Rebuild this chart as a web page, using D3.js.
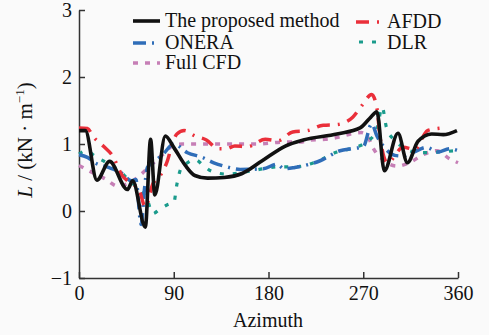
<!DOCTYPE html>
<html>
<head>
<meta charset="utf-8">
<script src="https://cdn.jsdelivr.net/npm/d3@7"></script>
<style>
  body { margin: 0; background: #fafafa; }
  svg text, svg g { font-family: "Times New Roman", Times, "Liberation Serif", "DejaVu Serif", serif !important; }
</style>
</head>
<body>
<script>
// Carga aerodinámica L frente al azimut, cinco métodos
var w = 489;
var h = 335;

var yTicks = [-1, 0, 1, 2, 3];
var xTicks = [0, 90, 180, 270, 360];

var proposedAz = [0, 6, 17, 29, 46, 51, 63, 68, 72, 82, 90, 101, 110, 122, 138, 155, 174, 196, 213, 245, 267, 276, 283, 290, 303, 312, 322, 335, 346, 359];
var proposedL  = [1.2, 1.2, 0.46, 0.74, 0.32, 0.45, -0.24, 1.07, 0.24, 1.12, 0.95, 0.68, 0.53, 0.49, 0.5, 0.56, 0.75, 0.97, 1.06, 1.15, 1.24, 1.38, 1.48, 0.6, 1.16, 0.72, 1.04, 1.15, 1.14, 1.2];

var afddAz = [0, 8, 14, 23, 32, 41, 50, 57, 63, 70, 78, 84, 88, 93, 100, 110, 121, 132, 140, 148, 160, 177, 189, 203, 217, 232, 245, 260, 269, 278, 283, 286, 293, 308, 319, 331, 345];
var afddL  = [1.24, 1.23, 1.1, 0.97, 0.82, 0.53, 0.41, 0.32, 0.06, 0.4, 0.55, 0.75, 0.97, 1.15, 1.2, 1.12, 1.06, 0.93, 0.93, 0.97, 0.96, 1.07, 1.05, 1.18, 1.2, 1.28, 1.29, 1.4, 1.58, 1.74, 1.53, 1.1, 0.72, 0.95, 0.92, 1.2, 1.24];

var oneraAz = [0, 8, 15, 28, 40, 50, 54, 59, 62, 65, 70, 80, 90, 103, 117, 128, 140, 153, 175, 188, 195, 205, 229, 248, 259, 270, 278, 283, 290, 300, 307, 318, 330, 341, 352, 360];
var oneraL  = [0.84, 0.8, 0.72, 0.65, 0.57, 0.45, 0.47, -0.2, 0.3, 0.65, 0.72, 0.85, 1.0, 0.87, 0.8, 0.72, 0.66, 0.62, 0.63, 0.7, 0.63, 0.65, 0.75, 0.9, 0.93, 0.96, 1.3, 1.12, 0.95, 0.83, 0.82, 0.88, 0.95, 0.88, 0.93, 0.9];

var dlrAz = [0, 7, 15, 25, 40, 48, 57, 65, 70, 77, 85, 90, 93, 97, 103, 110, 118, 125, 141, 157, 175, 190, 205, 225, 245, 258, 275, 283, 288, 292, 300, 308, 324, 340, 358];
var dlrL  = [0.85, 0.9, 0.82, 0.73, 0.58, 0.45, 0.33, 0.16, -0.04, 0.03, 0.1, 0.12, 0.4, 0.64, 0.72, 0.77, 0.68, 0.6, 0.55, 0.58, 0.63, 0.66, 0.66, 0.73, 0.88, 0.93, 1.05, 1.22, 1.55, 1.25, 1.05, 0.95, 0.87, 0.88, 0.9];

var cfdAz = [0, 12, 25, 37, 45, 57, 66, 80, 90, 98, 130, 170, 195, 210, 220, 234, 246, 258, 268, 274, 279, 290, 302, 315, 328, 340, 352, 360];
var cfdL  = [0.68, 0.58, 0.48, 0.37, 0.4, 0.52, 0.65, 0.85, 0.98, 1.0, 1.0, 1.0, 1.03, 1.03, 1.06, 1.07, 1.1, 1.15, 1.17, 1.12, 0.95, 0.75, 0.67, 0.73, 0.85, 0.9, 0.78, 0.72];

var series = [
  { name: "Full CFD", az: cfdAz, L: cfdL, color: "#c67fb6", width: 3.5, dash: "5,7" },
  { name: "DLR", az: dlrAz, L: dlrL, color: "#1a9b8c", width: 3.2, dash: "4,9" },
  { name: "ONERA", az: oneraAz, L: oneraL, color: "#2f6db8", width: 3.5, dash: "13,6,2,6" },
  { name: "AFDD", az: afddAz, L: afddL, color: "#ea2f3a", width: 3.5, dash: "13,8,2,8" },
  { name: "The proposed method", az: proposedAz, L: proposedL, color: "#111111", width: 3.6, dash: null }
];

var svg = d3.select("body")
  .append("svg")
    .attr("width", w)
    .attr("height", h);

var x = d3.scaleLinear().domain([0, 360]).range([79, 458]);
var y = d3.scaleLinear().domain([-1, 3]).range([278, 10]);

// ejes, con las marcas hacia dentro
var xAxis = svg.append("g")
  .attr("transform", "translate(0," + y(-1) + ")")
  .call(d3.axisBottom(x).tickValues(xTicks).tickFormat(d3.format("d"))
    .tickSizeInner(-6).tickSizeOuter(0).tickPadding(8));

var yAxis = svg.append("g")
  .attr("transform", "translate(" + x(0) + ",0)")
  .call(d3.axisLeft(y).tickValues(yTicks).tickFormat(d3.format("d"))
    .tickSizeInner(-6).tickSizeOuter(0).tickPadding(7));

[xAxis, yAxis].forEach(function(g) {
  g.attr("font-family", null).attr("font-size", 20);
  g.selectAll("path, line").attr("stroke", "#333").attr("stroke-width", 1.5);
  g.selectAll("text").attr("fill", "#111");
});

var line = d3.line()
  .x(function(d) { return x(d[0]); })
  .y(function(d) { return y(d[1]); })
  .curve(d3.curveMonotoneX);

series.forEach(function(s) {
  var pts = s.az.map(function(a, i) { return [a, s.L[i]]; });
  svg.append("path")
    .datum(pts)
    .attr("fill", "none")
    .attr("stroke", s.color)
    .attr("stroke-width", s.width)
    .attr("stroke-dasharray", s.dash)
    .attr("stroke-linejoin", "round")
    .attr("d", line);
});

// leyenda
var legend = [
  { s: series[4], x1: 133, x2: 160, y: 21, tx: 165, ty: 27 },
  { s: series[2], x1: 133, x2: 160, y: 43, tx: 165, ty: 49 },
  { s: series[0], x1: 133, x2: 160, y: 63, tx: 165, ty: 69 },
  { s: series[3], x1: 356, x2: 384, y: 22, tx: 387, ty: 28 },
  { s: series[1], x1: 359, x2: 384, y: 42, tx: 387, ty: 49 }
];

legend.forEach(function(d) {
  svg.append("line")
    .attr("x1", d.x1).attr("x2", d.x2)
    .attr("y1", d.y).attr("y2", d.y)
    .attr("stroke", d.s.color)
    .attr("stroke-width", d.s.width)
    .attr("stroke-dasharray", d.s.dash);
  svg.append("text")
    .attr("x", d.tx).attr("y", d.ty)
    .attr("font-size", 20)
    .attr("fill", "#111")
    .text(d.s.name);
});

// títulos de los ejes
svg.append("text")
  .attr("x", 268).attr("y", 327)
  .attr("text-anchor", "middle")
  .attr("font-size", 20)
  .attr("fill", "#111")
  .text("Azimuth");

var yl = svg.append("text")
  .attr("transform", "translate(32,140) rotate(-90)")
  .attr("text-anchor", "middle")
  .attr("font-size", 21)
  .attr("fill", "#111");
yl.append("tspan").attr("font-style", "italic").text("L");
yl.append("tspan").text(" / (kN · m");
yl.append("tspan").attr("font-size", 13).attr("dy", -8).text("−1");
yl.append("tspan").attr("dy", 8).text(")");
</script>
</body>
</html>
